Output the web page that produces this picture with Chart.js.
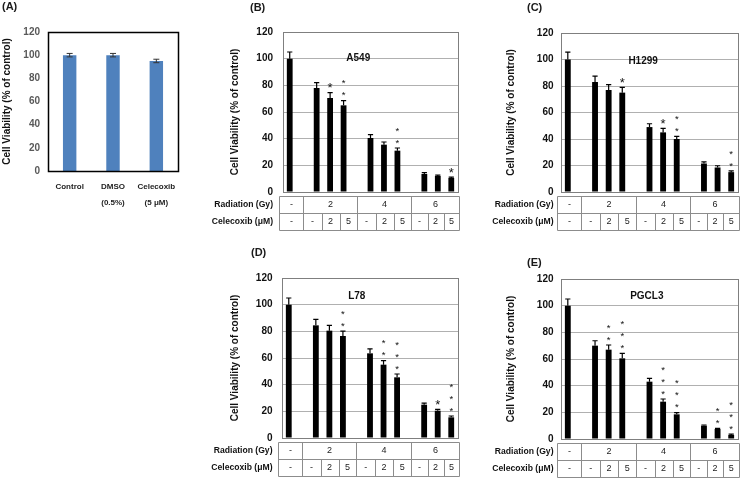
<!DOCTYPE html>
<html>
<head>
<meta charset="utf-8">
<script src="https://cdn.jsdelivr.net/npm/chart.js@4/dist/chart.umd.min.js"></script>
<style>
  body { margin: 0; background: #fff; }
  #wrap { position: relative; width: 740px; height: 478px; overflow: hidden; }
  canvas { position: absolute; }
  .tag { position: absolute; font: bold 11px "Liberation Sans", Arial, sans-serif; color: #1a1a1a; line-height: 14px; }
</style>
</head>
<body>
<div id="wrap">
  <canvas id="cA" width="200" height="210" style="left:0;top:0"></canvas>
  <canvas id="cB" width="258" height="235" style="left:210px;top:0"></canvas>
  <canvas id="cC" width="270" height="235" style="left:470px;top:0"></canvas>
  <canvas id="cD" width="258" height="238" style="left:210px;top:240px"></canvas>
  <canvas id="cE" width="270" height="238" style="left:470px;top:240px"></canvas>
  <div class="tag" style="left:2px;top:-1px">(A)</div>
  <div class="tag" style="left:250px;top:0px">(B)</div>
  <div class="tag" style="left:527px;top:0px">(C)</div>
  <div class="tag" style="left:251px;top:245px">(D)</div>
  <div class="tag" style="left:527px;top:255px">(E)</div>
</div>
<script>
const FONT = '"Liberation Sans", Arial, sans-serif'
Chart.defaults.font.family = FONT
Chart.defaults.animation = false

// panel A
const controlLabels = ['Control', ['DMSO', '(0.5%)'], ['Celecoxib', '(5 μM)']]
const controlViability = [100, 100, 95]
const controlError = [1.5, 1.5, 1.5]

// panels B-E share the treatment table
const radiationGy = ['-', '2', '4', '6']
const celecoxibUM = [['-'], ['-', '2', '5'], ['-', '2', '5'], ['-', '2', '5']]
const rowLabels = ['Radiation (Gy)', 'Celecoxib (μM)']
const yTitle = 'Cell Viability (% of control)'

const a549Viability = [100, 78, 70.5, 65, 40.5, 35.5, 31, 13.5, 12, 10.5]
const a549Error = [5, 4, 4, 3.5, 2.5, 2, 2, 1, 0.7, 0.7]
const a549Stars = [0, 0, 1, 2, 0, 0, 2, 0, 0, 1]

const h1299Viability = [100, 83, 77, 75, 49, 45, 40, 21.5, 18.5, 15]
const h1299Error = [5.5, 4.5, 4, 4, 2.5, 3, 2, 1.2, 1.3, 1]
const h1299Stars = [0, 0, 0, 1, 0, 1, 2, 0, 0, 2]

const l78Viability = [100, 84.5, 80.5, 76.5, 63.5, 55, 45.5, 25, 20.5, 15.5]
const l78Error = [5, 4.5, 4, 3.7, 3.3, 3, 2.5, 1.2, 1, 1]
const l78Stars = [0, 0, 0, 2, 0, 2, 3, 0, 1, 3]

const pgcl3Viability = [100, 70, 67, 60.5, 43, 28, 18.5, 10, 7.5, 3]
const pgcl3Error = [5, 3.7, 3.5, 3.7, 2.5, 2, 1.3, 0.5, 0.5, 0.7]
const pgcl3Stars = [0, 0, 2, 3, 0, 3, 3, 0, 2, 3]

// one x slot per bar, plus an empty slot between radiation groups
const slotOf = []
const groupSlots = []
let nSlots = 0
celecoxibUM.forEach((doses, g) => {
    if (g > 0) nSlots++
    groupSlots.push([])
    doses.forEach(() => { slotOf.push(nSlots); groupSlots[g].push(nSlots); nSlots++ })
})
function toSlots(values) {
    const out = new Array(nSlots).fill(null)
    values.forEach((v, i) => { out[slotOf[i]] = v })
    return out
}

function drawErrors(chart, errors, o) {
    const ctx = chart.ctx, y = chart.scales.y
    const data = chart.data.datasets[0].data
    ctx.save()
    ctx.strokeStyle = o.color
    ctx.lineWidth = o.width
    chart.getDatasetMeta(0).data.forEach((bar, i) => {
        const v = data[i], e = errors[i]
        if (v == null || e == null) return
        const top = y.getPixelForValue(v + e)
        const bottom = o.both ? y.getPixelForValue(v - e) : bar.y
        ctx.beginPath()
        ctx.moveTo(bar.x, top); ctx.lineTo(bar.x, bottom)
        ctx.moveTo(bar.x - o.cap, top); ctx.lineTo(bar.x + o.cap, top)
        if (o.both) { ctx.moveTo(bar.x - o.cap, bottom); ctx.lineTo(bar.x + o.cap, bottom) }
        ctx.stroke()
    })
    ctx.restore()
}

function frame(chart, color, width) {
    const a = chart.chartArea, ctx = chart.ctx
    ctx.save()
    ctx.strokeStyle = color
    ctx.lineWidth = width
    ctx.strokeRect(Math.round(a.left) + 0.5, Math.round(a.top) + 0.5, Math.round(a.width), Math.round(a.height))
    ctx.restore()
}

function panelExtras(p) {
    return {
        id: 'panelExtras',
        afterDatasetsDraw(chart) {
            const ctx = chart.ctx, a = chart.chartArea, x = chart.scales.x, y = chart.scales.y
            const data = chart.data.datasets[0].data
            frame(chart, '#7f7f7f', 1)
            drawErrors(chart, p.errors, { color: '#000', width: 1.2, cap: 2.6, both: false })

            // significance stars
            ctx.save()
            ctx.fillStyle = '#111'
            ctx.textAlign = 'center'
            ctx.textBaseline = 'middle'
            chart.getDatasetMeta(0).data.forEach((bar, i) => {
                const n = p.stars[i]
                if (!n) return
                const top = y.getPixelForValue(data[i] + p.errors[i])
                const size = n === 1 ? 13 : 9.5
                ctx.font = size + 'px ' + FONT
                for (let k = 0; k < n; k++) {
                    ctx.fillText('*', bar.x, top - 7 - k * 12 + size * 0.22)
                }
            })

            // cell line name
            ctx.font = 'bold 10px ' + FONT
            ctx.fillStyle = '#111'
            ctx.fillText(p.name, a.left + p.nameAt[0] * a.width, y.getPixelForValue(p.nameAt[1]))

            // treatment table
            const rowH = 17
            const top = Math.round(a.bottom + 4) + 0.5
            const left = Math.round(a.left - 4.5) + 0.5
            const right = Math.round(a.right + 1) + 0.5
            const bounds = [left]
            for (let g = 1; g < groupSlots.length; g++) {
                bounds.push(Math.round(x.getPixelForValue(groupSlots[g][0] - 1)) + 0.5)
            }
            bounds.push(right)
            ctx.strokeStyle = '#8c8c8c'
            ctx.lineWidth = 1
            ctx.beginPath()
            ctx.rect(left, top, right - left, 2 * rowH)
            ctx.moveTo(left, top + rowH); ctx.lineTo(right, top + rowH)
            bounds.slice(1, -1).forEach(b => { ctx.moveTo(b, top); ctx.lineTo(b, top + 2 * rowH) })
            celecoxibUM.forEach((doses, g) => {
                const w = (bounds[g + 1] - bounds[g]) / doses.length
                for (let k = 1; k < doses.length; k++) {
                    const bx = Math.round(bounds[g] + k * w) + 0.5
                    ctx.moveTo(bx, top + rowH); ctx.lineTo(bx, top + 2 * rowH)
                }
            })
            ctx.stroke()

            ctx.font = '9px ' + FONT
            ctx.fillStyle = '#222'
            radiationGy.forEach((r, g) => {
                ctx.fillText(r, (bounds[g] + bounds[g + 1]) / 2, top + rowH / 2)
                const w = (bounds[g + 1] - bounds[g]) / celecoxibUM[g].length
                celecoxibUM[g].forEach((d, k) => {
                    ctx.fillText(d, bounds[g] + (k + 0.5) * w, top + rowH * 1.5)
                })
            })
            ctx.font = 'bold 8.6px ' + FONT
            ctx.fillStyle = '#111'
            ctx.textAlign = 'right'
            rowLabels.forEach((t, r) => ctx.fillText(t, a.left - p.gap, top + rowH * (r + 0.5)))
            ctx.restore()
        }
    }
}

function lineChart(id, values, errors, stars, p) {
    const labels = new Array(nSlots).fill('')
    new Chart(document.getElementById(id), {
        type: 'bar',
        data: {
            labels: labels,
            datasets: [{
                data: toSlots(values),
                backgroundColor: '#000',
                categoryPercentage: 1,
                barPercentage: 0.43,
            }],
        },
        options: {
            responsive: false,
            layout: { padding: { left: 0, right: p.pad[1], top: p.pad[0], bottom: p.pad[2] } },
            plugins: { legend: { display: false }, tooltip: { enabled: false } },
            scales: {
                x: { display: false },
                y: {
                    min: 0,
                    max: 120,
                    afterFit: (s) => { s.width = p.axisW },
                    grid: { color: '#b0b0b0', drawTicks: false },
                    border: { display: false },
                    ticks: { stepSize: 20, padding: p.gap, color: '#111', font: { size: 10, weight: 'bold' } },
                    title: { display: true, text: yTitle, color: '#111', font: { size: 10, weight: 'bold' }, padding: { top: p.titlePad, bottom: 0 } },
                },
            },
        },
        plugins: [panelExtras({ errors: toSlots(errors), stars: toSlots(stars), name: p.name, nameAt: p.nameAt, gap: p.gap })],
    })
}

// panel A
new Chart(document.getElementById('cA'), {
    type: 'bar',
    data: {
        labels: controlLabels,
        datasets: [{
            data: controlViability,
            backgroundColor: '#4f81bd',
            categoryPercentage: 1,
            barPercentage: 0.31,
        }],
    },
    options: {
        responsive: false,
        layout: { padding: { left: 0, right: 22, top: 32, bottom: 0 } },
        plugins: { legend: { display: false }, tooltip: { enabled: false } },
        scales: {
            x: {
                afterFit: (s) => { s.height = 39 },
                grid: { display: false, drawTicks: false },
                border: { display: false },
                ticks: { maxRotation: 0, autoSkip: false, padding: 7, color: '#222', font: { size: 8, weight: 'bold', lineHeight: 2.1 } },
            },
            y: {
                min: 0,
                max: 120,
                afterFit: (s) => { s.width = 48 },
                grid: { display: false, drawTicks: false },
                border: { display: false },
                ticks: { stepSize: 20, padding: 8, color: '#595959', font: { size: 10, weight: 'bold' } },
                title: { display: true, text: yTitle, color: '#111', font: { size: 10, weight: 'bold' }, padding: { top: 1.5, bottom: 0 } },
            },
        },
    },
    plugins: [{
        id: 'controlExtras',
        afterDatasetsDraw(chart) {
            frame(chart, '#000', 1.5)
            drawErrors(chart, controlError, { color: '#333', width: 1, cap: 3, both: true })
        },
    }],
})

lineChart('cB', a549Viability, a549Error, a549Stars, { name: 'A549', nameAt: [0.43, 100], pad: [32, 10, 43], axisW: 73, gap: 10, titlePad: 19 })
lineChart('cC', h1299Viability, h1299Error, h1299Stars, { name: 'H1299', nameAt: [0.464, 99], pad: [33, 2, 43], axisW: 91, gap: 7.5, titlePad: 35 })
lineChart('cD', l78Viability, l78Error, l78Stars, { name: 'L78', nameAt: [0.425, 106], pad: [38, 10, 40], axisW: 72, gap: 9.5, titlePad: 19 })
lineChart('cE', pgcl3Viability, pgcl3Error, pgcl3Stars, { name: 'PGCL3', nameAt: [0.485, 107], pad: [39, 2, 39], axisW: 91, gap: 7.5, titlePad: 35 })
</script>
</body>
</html>
